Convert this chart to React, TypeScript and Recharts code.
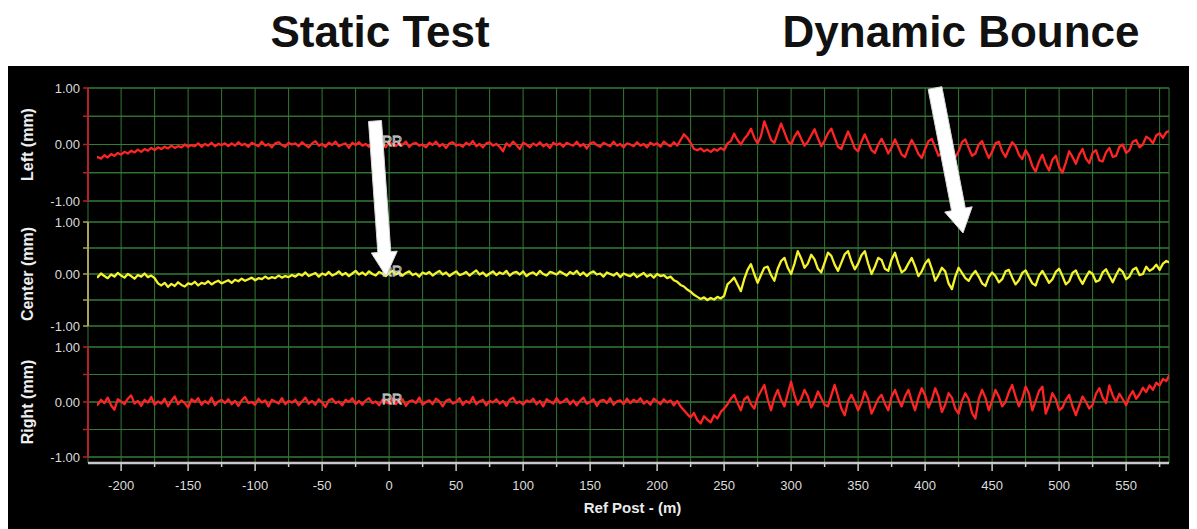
import React from "react";
import {
  LineChart,
  Line,
  XAxis,
  YAxis,
  CartesianGrid,
  ReferenceLine,
  ReferenceDot,
} from "recharts";

// sampled every 2.5 m of "Ref Post", starting at -220 m
const POST_START = -220;
const POST_STEP = 2.5;

const LEFT = [
  -0.26, -0.22, -0.25, -0.19, -0.23, -0.17, -0.2, -0.15, -0.18, -0.13, -0.16, -0.11, -0.14, -0.09, -0.13, -0.08, -0.11, -0.06, -0.1, -0.05,
  -0.08, -0.04, -0.07, -0.02, -0.06, -0.03, -0.05, 0.0, -0.04, -0.01, -0.03, 0.02, -0.04, 0.01, -0.02, 0.03, -0.03, 0.01, -0.01, 0.02,
  -0.03, 0.02, -0.02, 0.04, -0.01, 0.01, -0.04, 0.03, 0.0, -0.03, 0.05, -0.02, 0.01, -0.05, 0.02, 0.04, -0.01, -0.04, 0.03, 0.0,
  0.02, -0.03, 0.04, -0.01, -0.05, 0.02, 0.06, -0.02, 0.01, -0.04, 0.03, -0.01, 0.05, -0.03, 0.0, 0.02, -0.06, 0.03, -0.01, 0.04,
  -0.02, 0.01, -0.04, 0.03, 0.06, -0.02, 0.0, -0.05, 0.04, 0.01, -0.03, 0.02, -0.01, 0.05, -0.04, 0.01, 0.03, -0.02, 0.0, -0.05,
  0.03, -0.01, 0.05, -0.03, 0.01, -0.06, 0.02, 0.04, -0.02, 0.0, -0.04, 0.03, -0.01, 0.06, -0.03, 0.01, -0.05, 0.02, 0.04, -0.02,
  0.01, -0.04, -0.12, 0.02, -0.03, 0.05, -0.01, -0.08, 0.03, 0.0, -0.05, 0.02, -0.02, 0.04, -0.03, 0.01, -0.06, 0.03, -0.01, 0.02,
  -0.04, 0.03, 0.0, -0.02, 0.05, -0.03, 0.01, -0.07, 0.02, 0.04, -0.01, -0.04, 0.03, 0.0, -0.03, 0.05, -0.02, 0.01, -0.05, 0.02,
  0.0, -0.03, 0.04, -0.02, 0.01, -0.05, 0.03, -0.01, 0.02, -0.04, 0.05, 0.0, -0.03, 0.04, -0.02, 0.08, 0.18, 0.12, 0.03, -0.08,
  -0.1, -0.07, -0.12, -0.09, -0.13, -0.08, -0.11, -0.06, -0.1, 0.02, 0.06, 0.19, 0.08, 0.0, 0.1, 0.17, 0.28, 0.12, 0.02, 0.15,
  0.41, 0.25, 0.08, 0.03, 0.2, 0.37, 0.22, 0.06, 0.0, 0.14, 0.23, 0.1, -0.02, 0.05, 0.16, 0.27, 0.11, -0.03, 0.07, 0.2,
  0.28, 0.12, -0.04, -0.08, 0.08, 0.23, 0.09, -0.07, -0.12, 0.05, 0.18, 0.04, -0.1, -0.15, 0.0, 0.1, -0.02, -0.16, -0.05, 0.09,
  -0.04, -0.18, -0.22, -0.06, 0.08, -0.03, -0.17, -0.24, -0.08, 0.06, 0.1, -0.05, -0.2, -0.14, 0.03, 0.07, -0.09, -0.23, -0.12, 0.04,
  0.09, -0.06, -0.2, -0.16, 0.0, 0.06, -0.1, -0.24, -0.13, 0.02, 0.05, -0.12, -0.22, -0.08, 0.04, -0.03, -0.18, -0.26, -0.1, -0.2,
  -0.38, -0.48, -0.3, -0.18, -0.35, -0.46, -0.27, -0.2, -0.4, -0.5, -0.32, -0.12, -0.22, -0.34, -0.18, -0.08, -0.25, -0.33, -0.15, -0.1,
  -0.28, -0.3, -0.14, -0.06, -0.22, -0.2, -0.04, 0.0, -0.15, -0.1, 0.05, 0.08, -0.05, 0.0, 0.14, 0.1, 0.02, 0.16, 0.2, 0.12,
  0.22, 0.24,
];

const CENTER = [
  -0.02, -0.06, 0.01, -0.04, -0.08, -0.01, -0.05, 0.02, -0.03, -0.07, 0.0, -0.04, -0.09, -0.02, -0.05, 0.01, -0.06, -0.03, -0.08, -0.18,
  -0.22, -0.17, -0.25, -0.19, -0.23, -0.16, -0.21, -0.24, -0.18, -0.2, -0.15, -0.22, -0.17, -0.19, -0.14, -0.2, -0.16, -0.13, -0.18, -0.15,
  -0.12, -0.17, -0.11, -0.14, -0.09, -0.13, -0.1, -0.07, -0.12, -0.08, -0.1, -0.05, -0.09, -0.06, -0.08, -0.03, -0.07, -0.04, -0.06, -0.02,
  -0.05, 0.0, -0.03, 0.03, -0.04, -0.01, 0.02, -0.05, 0.01, -0.02, 0.04, -0.03, 0.0, 0.05, -0.02, 0.02, -0.04, 0.01, 0.06, -0.01,
  0.03, -0.02, 0.05, 0.0, -0.03, 0.04, 0.01, -0.04, 0.02, 0.06, -0.01, 0.03, -0.03, 0.02, 0.05, -0.02, 0.01, -0.05, 0.03, 0.0,
  0.04, -0.03, 0.02, 0.06, -0.01, 0.03, -0.04, 0.01, 0.05, -0.02, 0.0, 0.04, -0.03, 0.02, 0.07, -0.01, 0.03, -0.04, 0.01, 0.05,
  -0.02, 0.03, 0.0, 0.06, -0.03, 0.02, 0.04, -0.01, 0.05, -0.04, 0.01, 0.03, -0.02, 0.06, 0.0, -0.03, 0.04, 0.02, -0.01, 0.05,
  0.01, -0.03, 0.04, 0.0, 0.06, -0.02, 0.03, -0.04, 0.02, 0.05, -0.01, 0.01, -0.05, 0.03, 0.0, -0.03, 0.02, -0.06, 0.01, -0.02,
  -0.04, 0.01, -0.06, -0.02, 0.02, -0.05, -0.01, -0.07, 0.0, -0.04, -0.02, -0.08, -0.05, -0.12, -0.15, -0.21, -0.24, -0.3, -0.34, -0.4,
  -0.44, -0.48, -0.45, -0.5, -0.46, -0.49, -0.44, -0.47, -0.42, -0.2, -0.14, -0.07, -0.2, -0.33, -0.1, 0.08, 0.19, 0.0, -0.17, -0.02,
  0.12, 0.14, -0.02, -0.13, 0.1, 0.25, 0.31, 0.12, 0.0, 0.2, 0.44, 0.3, 0.12, 0.2, 0.37, 0.28, 0.1, 0.03, 0.22, 0.41,
  0.35, 0.18, 0.06, 0.22, 0.38, 0.44, 0.24, 0.09, 0.2, 0.36, 0.44, 0.2, 0.0, 0.14, 0.31, 0.27, 0.1, 0.06, 0.28, 0.41,
  0.2, 0.03, 0.08, 0.2, 0.31, 0.15, -0.04, 0.05, 0.2, 0.28, 0.1, -0.13, -0.02, 0.12, 0.05, -0.18, -0.29, -0.05, 0.12, 0.02,
  -0.08, -0.13, -0.02, 0.06, -0.05, -0.18, -0.23, -0.06, 0.03, -0.04, -0.16, -0.1, 0.05, 0.08, -0.07, -0.2, -0.12, 0.02, 0.07, -0.06,
  -0.18, -0.22, -0.03, 0.06, -0.05, -0.17, -0.1, 0.04, 0.1, -0.04, -0.2, -0.14, 0.02, 0.07, -0.08, -0.19, -0.06, 0.05, 0.0, -0.15,
  -0.12, 0.03, 0.09, -0.04, -0.16, -0.02, 0.1, 0.04, -0.1, -0.05, 0.08, 0.12, -0.02, 0.0, 0.14, 0.06, 0.1, 0.18, 0.08, 0.2,
  0.25, 0.22,
];

const RIGHT = [
  0.02, -0.05, 0.04, -0.02, 0.08, -0.06, -0.14, 0.05, 0.01, -0.04, 0.06, 0.12, -0.03, 0.02, -0.07, 0.04, -0.01, 0.09, -0.05, 0.01,
  -0.03, 0.06, -0.08, 0.02, 0.1, -0.04, 0.03, -0.02, -0.1, 0.05, 0.0, 0.07, -0.05, 0.02, -0.03, 0.08, -0.06, 0.01, 0.04, -0.02,
  0.05, -0.04, 0.02, -0.07, 0.03, 0.09, -0.02, 0.0, -0.05, 0.06, -0.01, 0.03, -0.08, 0.04, 0.01, -0.03, 0.07, -0.04, 0.02, -0.01,
  0.04, -0.06, 0.01, 0.08, -0.03, 0.02, -0.05, 0.05, -0.01, -0.09, 0.03, 0.06, -0.02, 0.01, -0.06, 0.04, 0.0, 0.07, -0.04, 0.02,
  -0.05, 0.03, 0.07, -0.02, 0.01, -0.06, 0.04, 0.0, -0.03, 0.06, -0.04, 0.02, 0.05, -0.07, 0.01, 0.03, -0.02, 0.08, -0.05, 0.0,
  0.03, -0.04, 0.06, 0.01, -0.08, 0.02, 0.05, -0.03, 0.0, 0.07, -0.05, 0.02, -0.02, 0.09, -0.04, 0.01, 0.04, -0.06, 0.02, -0.01,
  0.05, -0.03, 0.02, -0.07, 0.04, 0.08, -0.02, 0.01, -0.05, 0.03, 0.0, 0.06, -0.04, 0.02, -0.08, 0.05, 0.01, -0.03, 0.07, -0.02,
  0.01, 0.06, -0.04, 0.03, -0.06, 0.02, 0.08, -0.03, 0.0, 0.05, -0.07, 0.02, 0.04, -0.02, 0.07, -0.05, 0.01, 0.03, -0.04, 0.06,
  -0.02, 0.04, 0.0, 0.07, -0.03, 0.02, -0.05, 0.06, 0.01, -0.04, 0.05, -0.01, 0.03, -0.06, 0.02, -0.08, -0.15, -0.22, -0.28, -0.2,
  -0.33, -0.39, -0.26, -0.32, -0.37, -0.24, -0.3, -0.18, -0.12, -0.04, 0.06, 0.13, -0.02, -0.15, 0.05, 0.1, -0.04, -0.12, 0.08, 0.2,
  0.31, 0.05, -0.15, 0.08, 0.22, 0.04, -0.08, 0.15, 0.37, 0.12, -0.05, 0.06, 0.22, 0.1, -0.1, 0.02, 0.19, 0.07, -0.05, -0.08,
  0.12, 0.31, 0.1, -0.12, -0.24, 0.02, 0.13, 0.0, -0.15, -0.02, 0.19, 0.05, -0.21, -0.08, 0.06, 0.13, -0.03, -0.15, 0.1, 0.22,
  0.05, -0.08, 0.1, 0.22, 0.02, -0.15, 0.08, 0.25, 0.12, -0.1, 0.04, 0.25, 0.1, -0.18, -0.05, 0.16, 0.08, -0.12, -0.21, 0.02,
  0.16, 0.05, -0.2, -0.3, 0.05, 0.22, 0.08, -0.15, 0.02, 0.22, 0.1, -0.08, 0.0, 0.18, 0.31, 0.1, -0.08, 0.06, 0.28, 0.15,
  -0.15, 0.02, 0.2, 0.28, -0.21, -0.05, 0.16, 0.05, -0.15, -0.1, 0.04, 0.13, -0.08, -0.24, -0.06, 0.1, 0.0, -0.12, -0.05, 0.15,
  0.25, 0.08, -0.02, 0.3, 0.12, 0.0, 0.15, 0.05, -0.06, 0.1, 0.2, 0.06, 0.14, 0.26, 0.18, 0.3, 0.22, 0.35, 0.3, 0.42,
  0.38, 0.5,
];

const POST_TICKS = [
  -200, -175, -150, -125, -100, -75, -50, -25, 0, 25, 50, 75, 100, 125, 150, 175, 200,
  225, 250, 275, 300, 325, 350, 375, 400, 425, 450, 475, 500, 525, 550, 575,
];
const MM_TICKS = [-1, -0.5, 0, 0.5, 1];

const X_MIN = -218;
const X_MAX = 582;

const rows = LEFT.map((v, i) => ({
  post: POST_START + i * POST_STEP,
  left: v,
  center: CENTER[i],
  right: RIGHT[i],
}));

const CHART_W = 1189;
const GRID = "#357a35";
const MARGIN_R = 28;
const PAD = { left: 9, right: 0 };

const PANELS = [
  { key: "left", title: "Left (mm)", axis: "#b42228", line: "#ff2424", top: 14, h: 113 },
  { key: "center", title: "Center (mm)", axis: "#aaa25a", line: "#f4f22c", top: 148, h: 104 },
  { key: "right", title: "Right (mm)", axis: "#b42228", line: "#ff2424", top: 273, h: 110 },
];

const fmtMm = (v: number) => (Number.isInteger(v) ? v.toFixed(2) : "");

const yTitle = (text: string) => (props: any) => {
  const vb = props.viewBox || { x: 0, y: 0, width: 80, height: 100 };
  const cx = vb.x + 19;
  const cy = vb.y + vb.height / 2;
  return (
    <text
      x={cx}
      y={cy}
      transform={`rotate(-90 ${cx} ${cy})`}
      textAnchor="middle"
      dominantBaseline="central"
      fill="#eeeeee"
      fontSize={16}
      fontWeight="bold"
    >
      {text}
    </text>
  );
};

const XTick = (props: any) => {
  const { x, y, payload } = props;
  const major = payload.value % 50 === 0;
  return (
    <g>
      <line x1={x} x2={x} y1={y} y2={y + (major ? 8 : 4)} stroke="#cfcfcf" strokeWidth={1.5} />
      {major && (
        <text x={x} y={y + 27} textAnchor="middle" fill="#dddddd" fontSize={13}>
          {payload.value}
        </text>
      )}
    </g>
  );
};

// white annotation arrow as a polygon
const arrow = (x1: number, y1: number, x2: number, y2: number, shaft: number, headLen: number, headHalf: number) => {
  const dx = x2 - x1;
  const dy = y2 - y1;
  const len = Math.hypot(dx, dy);
  const ux = dx / len;
  const uy = dy / len;
  const nx = -uy;
  const ny = ux;
  const bx = x2 - ux * headLen;
  const by = y2 - uy * headLen;
  const s = shaft / 2;
  const pts = [
    [x1 + nx * s, y1 + ny * s],
    [bx + nx * s, by + ny * s],
    [bx + nx * headHalf, by + ny * headHalf],
    [x2, y2],
    [bx - nx * headHalf, by - ny * headHalf],
    [bx - nx * s, by - ny * s],
    [x1 - nx * s, y1 - ny * s],
  ];
  return pts.map((p) => p.join(",")).join(" ");
};

const Panel = ({ p }: { p: (typeof PANELS)[number] }) => (
  <div style={{ position: "absolute", left: 0, top: p.top }}>
    <LineChart
      width={CHART_W}
      height={p.h + 16}
      data={rows}
      margin={{ top: 8, right: MARGIN_R, bottom: 8, left: 0 }}
    >
      <CartesianGrid vertical={false} stroke={GRID} strokeWidth={1} />
      <XAxis dataKey="post" type="number" domain={[X_MIN, X_MAX]} allowDataOverflow padding={PAD} hide />
      <YAxis
        type="number"
        domain={[-1, 1]}
        ticks={MM_TICKS}
        interval={0}
        width={80}
        tickFormatter={fmtMm}
        axisLine={{ stroke: p.axis, strokeWidth: 2 }}
        tickLine={{ stroke: p.axis, strokeWidth: 1.5 }}
        tickSize={5}
        tickMargin={3}
        tick={{ fill: "#dcdcdc", fontSize: 13 }}
        label={yTitle(p.title)}
      />
      {MM_TICKS.map((v) => (
        <ReferenceLine key={v} y={v} stroke={GRID} strokeWidth={1} />
      ))}
      <Line
        type="linear"
        dataKey={p.key}
        stroke={p.line}
        strokeWidth={2.3}
        strokeLinejoin="round"
        dot={false}
        isAnimationActive={false}
      />
      <ReferenceDot
        x={0}
        y={0}
        r={1}
        fill="none"
        stroke="none"
        label={{
          value: "RR",
          position: "center",
          fill: "none",
          stroke: "#e0e0e0",
          strokeWidth: 0.8,
          fontSize: 14,
          dx: 3,
          dy: -3,
        }}
      />
    </LineChart>
  </div>
);

export default function App() {
  return (
    <div style={{ position: "relative", width: CHART_W, height: 521, background: "#fff" }}>
      <div
        style={{
          position: "absolute",
          left: 372,
          top: 2,
          transform: "translateX(-50%)",
          font: "bold 44px/44px 'Liberation Sans', Arial, sans-serif",
          color: "#111",
          whiteSpace: "nowrap",
        }}
      >
        Static Test
      </div>
      <div
        style={{
          position: "absolute",
          left: 953,
          top: 2,
          transform: "translateX(-50%)",
          font: "bold 44px/44px 'Liberation Sans', Arial, sans-serif",
          color: "#111",
          whiteSpace: "nowrap",
        }}
      >
        Dynamic Bounce
      </div>

      <div
        style={{
          position: "absolute",
          left: 0,
          top: 58,
          width: CHART_W,
          height: 463,
          background: "#000",
          fontFamily: "'Liberation Sans', Arial, sans-serif",
        }}
      >
        <LineChart
          width={CHART_W}
          height={463}
          data={rows}
          margin={{ top: 22, right: MARGIN_R, bottom: 6, left: 80 }}
        >
          <CartesianGrid horizontal={false} stroke={GRID} />
          <XAxis
            dataKey="post"
            type="number"
            domain={[X_MIN, X_MAX]}
            allowDataOverflow
            padding={PAD}
            ticks={POST_TICKS}
            interval={0}
            height={60}
            tickSize={0}
            tickMargin={0}
            tickLine={false}
            tick={<XTick />}
            axisLine={{ stroke: "#c9c9c9", strokeWidth: 2.5 }}
            label={{
              value: "Ref Post - (m)",
              position: "insideBottom",
              offset: 10,
              dx: 4,
              fill: "#ebebeb",
              fontSize: 15,
              fontWeight: "bold",
            }}
          />
          <YAxis hide domain={[0, 1]} />
          <ReferenceLine x={X_MIN} stroke={GRID} />
          <ReferenceLine x={X_MAX} stroke={GRID} />
          <ReferenceLine x={0} stroke="#c4c4c4" strokeDasharray="7 3 2 3" strokeWidth={1.5} />
        </LineChart>

        {PANELS.map((p) => (
          <Panel key={p.key} p={p} />
        ))}
      </div>

      <svg
        width={CHART_W}
        height={521}
        style={{ position: "absolute", left: 0, top: 0, pointerEvents: "none" }}
      >
        <polygon points={arrow(367, 113, 378, 268, 13, 24, 13)} fill="#fff" stroke="#d8d8d8" strokeWidth={1} />
        <polygon points={arrow(927, 80, 955, 225, 14, 24, 14)} fill="#fff" stroke="#d8d8d8" strokeWidth={1} />
      </svg>
    </div>
  );
}
